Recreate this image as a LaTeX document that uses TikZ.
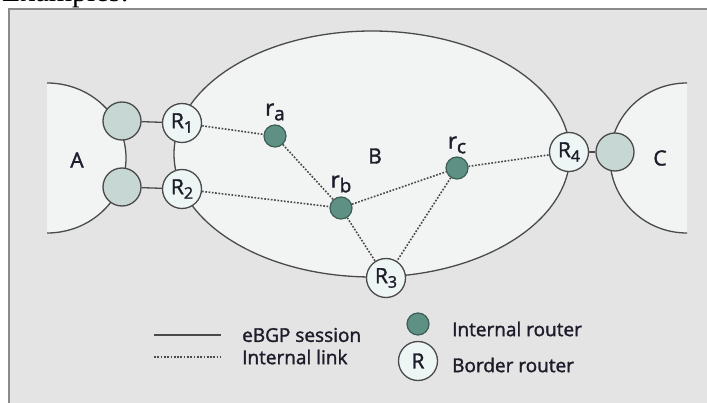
\documentclass[tikz,border=0pt]{standalone}
\usepackage{fontspec}
\setmainfont{Open Sans}[FakeBold=1.6]
\newfontfamily\serifex{Liberation Serif}
\definecolor{bggray}{HTML}{E4E4E4}
\definecolor{framegray}{HTML}{8A8A8A}
\definecolor{lightreg}{HTML}{F2F3F3}
\definecolor{edgegray}{HTML}{4A4A4A}
\definecolor{asgreen}{HTML}{C6D7D4}
\definecolor{introuter}{HTML}{5E9184}
\definecolor{introuteredge}{HTML}{3C5E55}
\definecolor{bordfill}{HTML}{EEF5F5}
\definecolor{txt}{HTML}{1C1C2A}
\newcommand\lowsub[2][16]{\raisebox{-0.4ex}{\fontsize{#1}{#1}\selectfont #2}}
\tikzset{
  boundary/.style={draw=edgegray, line width=1.3pt},
  border router/.style={circle, draw=edgegray, line width=1.3pt, fill=bordfill,
    minimum size=39pt, inner sep=0pt, text=txt, font=\fontsize{21}{21}\selectfont},
  as router/.style={circle, draw=edgegray, line width=1.3pt, fill=asgreen,
    minimum size=38pt, inner sep=0pt},
  internal router/.style={circle, draw=introuteredge, line width=1.2pt, fill=introuter,
    minimum size=22pt, inner sep=0pt},
  rlabel/.style={text=txt, font=\fontsize{22}{22}\selectfont, inner sep=0pt},
  aslabel/.style={text=txt, font=\fontsize{21}{21}\selectfont, inner sep=0pt},
  legendtext/.style={text=txt, font=\fontsize{19}{19}\selectfont, inner sep=0pt, anchor=west},
  ebgp/.style={draw=edgegray, line width=1.3pt},
  intlink/.style={draw=edgegray, line width=1.6pt, dash pattern=on 1.7pt off 1.6pt}
}
\begin{document}
\begin{tikzpicture}[x=1pt,y=-1pt]
\useasboundingbox (0,0) rectangle (707,403);
% cropped caption above the frame
\node[anchor=base west, inner sep=0pt, font=\serifex\fontsize{30}{30}\selectfont] (ex) at (2,1.5) {Examples:};
% frame
\fill[bggray] (9,9) rectangle (720,420);
\draw[framegray, line width=2.5pt] (9,420) -- (9,9) -- (720,9);
% AS A region
\begin{scope}
  \clip (47,0) rectangle (707,403);
  \fill[lightreg] (47,158) ellipse [x radius=79pt, y radius=75pt];
  \draw[boundary] (47,158) ellipse [x radius=79pt, y radius=75pt];
\end{scope}
% AS C region
\begin{scope}
  \clip (0,0) rectangle (687,403);
  \fill[lightreg] (687,158) ellipse [x radius=77pt, y radius=75pt];
  \draw[boundary] (687,158) ellipse [x radius=77pt, y radius=75pt];
\end{scope}
% AS B region
\fill[lightreg] (372,154) ellipse [x radius=198pt, y radius=123pt];
\draw[boundary] (372,154) ellipse [x radius=198pt, y radius=123pt];

% AS labels
\node[aslabel] (lA) at (77,160) {A};
\node[aslabel] (lB) at (375,156) {B};
\node[aslabel] (lC) at (660,158) {C};

% routers
\node[as router] (A1) at (122,121) {};
\node[as router] (A2) at (122,187) {};
\node[as router] (C1) at (615,152) {};
\node[border router] (R1) at (182,123) {R\lowsub{1}};
\node[border router] (R2) at (182,189) {R\lowsub{2}};
\node[border router] (R3) at (386,278) {R\lowsub{3}};
\node[border router] (R4) at (569,152) {R\lowsub{4}};
\node[internal router] (ra) at (275,136) {};
\node[internal router] (rb) at (341,208) {};
\node[internal router] (rc) at (457,168) {};
\node[rlabel] (lra) at (275,112) {r\lowsub[19]{a}};
\node[rlabel] (lrb) at (341,184) {r\lowsub[19]{b}};
\node[rlabel] (lrc) at (457,145) {r\lowsub[19]{c}};

% eBGP sessions
\draw[ebgp] (A1) -- (R1);
\draw[ebgp] (A2) -- (R2);
\draw[ebgp] (R4) -- (C1);
% internal links
\draw[intlink] (R1) -- (ra);
\draw[intlink] (ra) -- (rb);
\draw[intlink] (R2) -- (rb);
\draw[intlink] (rb) -- (rc);
\draw[intlink] (rb) -- (R3);
\draw[intlink] (rc) -- (R3);
\draw[intlink] (rc) -- (R4);

% legend
\coordinate (l1a) at (154,335);
\coordinate (l1b) at (221,335);
\coordinate (l2a) at (154,357);
\coordinate (l2b) at (221,357);
\draw[ebgp] (l1a) -- (l1b);
\draw[intlink, line width=1.3pt] (l2a) -- (l2b);
\node[legendtext] (t1) at (242,335) {eBGP session};
\node[legendtext] (t2) at (242,357) {Internal link};
\node[internal router] (leg1) at (418,324) {};
\node[border router] (leg2) at (418,361) {R};
\node[legendtext] (t3) at (452,329) {Internal router};
\node[legendtext] (t4) at (452,365) {Border router};
\end{tikzpicture}
\end{document}
